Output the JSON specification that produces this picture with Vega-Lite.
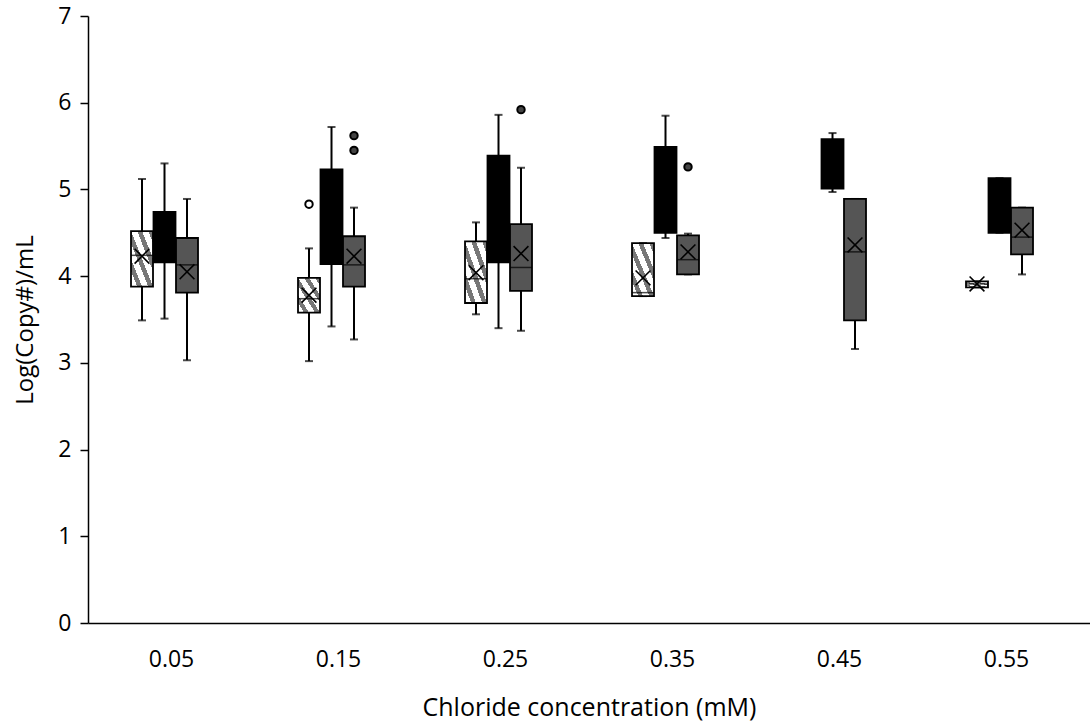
{
  "$schema": "https://vega.github.io/schema/vega-lite/v6.json",
  "width": 1002,
  "height": 607,
  "autosize": {"type": "none"},
  "padding": {"left": 88, "top": 16, "right": 0, "bottom": 103},
  "background": "white",
  "config": {
    "view": {"stroke": null},
    "font": "Open Sans",
    "axis": {"labelColor": "black", "titleColor": "black", "domainColor": "black", "tickColor": "black", "grid": false, "labelFontSize": 23, "titleFontSize": 25, "titleFontWeight": "normal", "labelFont": "Open Sans", "titleFont": "Open Sans"}
  },
  "datasets": {
    "boxes": [
      {"conc": "0.05", "series": "A", "min": 3.49, "q1": 3.88, "median": 4.24, "q3": 4.52, "max": 5.12, "mean": 4.23},
      {"conc": "0.05", "series": "B", "min": 3.51, "q1": 4.16, "median": 4.45, "q3": 4.74, "max": 5.30, "mean": 4.45},
      {"conc": "0.05", "series": "C", "min": 3.03, "q1": 3.81, "median": 4.13, "q3": 4.44, "max": 4.89, "mean": 4.05},
      {"conc": "0.15", "series": "A", "min": 3.02, "q1": 3.58, "median": 3.74, "q3": 3.98, "max": 4.32, "mean": 3.78},
      {"conc": "0.15", "series": "B", "min": 3.42, "q1": 4.14, "median": 4.70, "q3": 5.23, "max": 5.72, "mean": 4.68},
      {"conc": "0.15", "series": "C", "min": 3.27, "q1": 3.88, "median": 4.13, "q3": 4.46, "max": 4.79, "mean": 4.23},
      {"conc": "0.25", "series": "A", "min": 3.56, "q1": 3.69, "median": 3.97, "q3": 4.40, "max": 4.62, "mean": 4.04},
      {"conc": "0.25", "series": "B", "min": 3.40, "q1": 4.16, "median": 4.70, "q3": 5.39, "max": 5.86, "mean": 4.72},
      {"conc": "0.25", "series": "C", "min": 3.37, "q1": 3.83, "median": 4.10, "q3": 4.60, "max": 5.25, "mean": 4.26},
      {"conc": "0.35", "series": "A", "min": 3.77, "q1": 3.77, "median": 3.81, "q3": 4.38, "max": 4.38, "mean": 3.98},
      {"conc": "0.35", "series": "B", "min": 4.44, "q1": 4.50, "median": 4.89, "q3": 5.49, "max": 5.85, "mean": 5.06},
      {"conc": "0.35", "series": "C", "min": 4.02, "q1": 4.02, "median": 4.19, "q3": 4.47, "max": 4.49, "mean": 4.28},
      {"conc": "0.45", "series": "B", "min": 4.97, "q1": 5.01, "median": 5.23, "q3": 5.58, "max": 5.65, "mean": 5.30},
      {"conc": "0.45", "series": "C", "min": 3.16, "q1": 3.49, "median": 4.28, "q3": 4.89, "max": 4.89, "mean": 4.36},
      {"conc": "0.55", "series": "A", "min": 3.87, "q1": 3.87, "median": 3.91, "q3": 3.94, "max": 3.94, "mean": 3.91},
      {"conc": "0.55", "series": "B", "min": 4.50, "q1": 4.50, "median": 4.80, "q3": 5.13, "max": 5.13, "mean": 4.80},
      {"conc": "0.55", "series": "C", "min": 4.02, "q1": 4.25, "median": 4.45, "q3": 4.79, "max": 4.79, "mean": 4.53}
    ],
    "outliers": [
      {"conc": "0.15", "series": "A", "value": 4.83},
      {"conc": "0.15", "series": "C", "value": 5.62},
      {"conc": "0.15", "series": "C", "value": 5.45},
      {"conc": "0.25", "series": "C", "value": 5.92},
      {"conc": "0.35", "series": "C", "value": 5.26}
    ]
  },
  "encoding": {
    "x": {
      "field": "conc", "type": "nominal", "sort": ["0.05", "0.15", "0.25", "0.35", "0.45", "0.55"],
      "scale": {"paddingInner": 0, "paddingOuter": 0},
      "axis": {"title": "Chloride concentration (mM)", "labelAngle": 0, "ticks": false, "tickSize": 0, "labelPadding": 25, "titlePadding": 24, "domainWidth": 1.5}
    },
    "xOffset": {
      "field": "series", "type": "nominal",
      "scale": {"domain": ["pre", "A", "B", "C", "post1", "post2"], "paddingInner": 0, "paddingOuter": 0.711, "align": 0.633}
    }
  },
  "layer": [
    {
      "data": {"name": "boxes"},
      "mark": {"type": "rule", "stroke": "black", "strokeWidth": 2},
      "encoding": {
        "y": {"field": "min", "type": "quantitative", "scale": {"domain": [0, 7], "nice": false},
          "axis": {"title": "Log(Copy#)/mL", "titleFontSize": 24, "values": [0, 1, 2, 3, 4, 5, 6, 7], "format": "d", "tickSize": 8, "tickWidth": 1.5, "domainWidth": 1.5, "labelPadding": 9, "titlePadding": 20}},
        "y2": {"field": "max"}
      }
    },
    {
      "data": {"name": "boxes"},
      "mark": {"type": "tick", "color": "black", "size": 8, "thickness": 2, "orient": "horizontal"},
      "encoding": {"y": {"field": "min", "type": "quantitative"}}
    },
    {
      "data": {"name": "boxes"},
      "mark": {"type": "tick", "color": "black", "size": 8, "thickness": 2, "orient": "horizontal"},
      "encoding": {"y": {"field": "max", "type": "quantitative"}}
    },
    {
      "data": {"name": "boxes"},
      "mark": {"type": "bar", "size": 22, "stroke": "black", "strokeWidth": 1.8},
      "encoding": {
        "y": {"field": "q1", "type": "quantitative"},
        "y2": {"field": "q3"},
        "fill": {
          "condition": [
            {"test": "datum.series === 'A'", "value": {"gradient": "linear", "x1": 0, "y1": 1, "x2": 1, "y2": 0, "stops": [
              {"offset": 0, "color": "#ffffff"}, {"offset": 0.14, "color": "#ffffff"}, {"offset": 0.14, "color": "#777777"}, {"offset": 0.25, "color": "#777777"},
              {"offset": 0.25, "color": "#ffffff"}, {"offset": 0.39, "color": "#ffffff"}, {"offset": 0.39, "color": "#777777"}, {"offset": 0.5, "color": "#777777"},
              {"offset": 0.5, "color": "#ffffff"}, {"offset": 0.64, "color": "#ffffff"}, {"offset": 0.64, "color": "#777777"}, {"offset": 0.75, "color": "#777777"},
              {"offset": 0.75, "color": "#ffffff"}, {"offset": 0.89, "color": "#ffffff"}, {"offset": 0.89, "color": "#777777"}, {"offset": 1, "color": "#777777"}
            ]}},
            {"test": "datum.series === 'B'", "value": "#000000"}
          ],
          "value": "#555555"
        }
      }
    },
    {
      "data": {"name": "boxes"},
      "mark": {"type": "tick", "color": "black", "size": 22, "thickness": 1.5, "orient": "horizontal"},
      "encoding": {"y": {"field": "median", "type": "quantitative"}}
    },
    {
      "data": {"name": "boxes"},
      "mark": {"type": "point", "shape": "M -1 -1 L 1 1 M 1 -1 L -1 1", "filled": false, "stroke": "black", "strokeWidth": 1.6, "size": 220, "opacity": 1},
      "encoding": {"y": {"field": "mean", "type": "quantitative"}}
    },
    {
      "data": {"name": "outliers"},
      "mark": {"type": "point", "shape": "circle", "filled": true, "stroke": "black", "strokeWidth": 2, "size": 55, "opacity": 1},
      "encoding": {
        "y": {"field": "value", "type": "quantitative"},
        "fill": {"condition": {"test": "datum.series === 'A'", "value": "#ffffff"}, "value": "#444444"}
      }
    }
  ]
}
